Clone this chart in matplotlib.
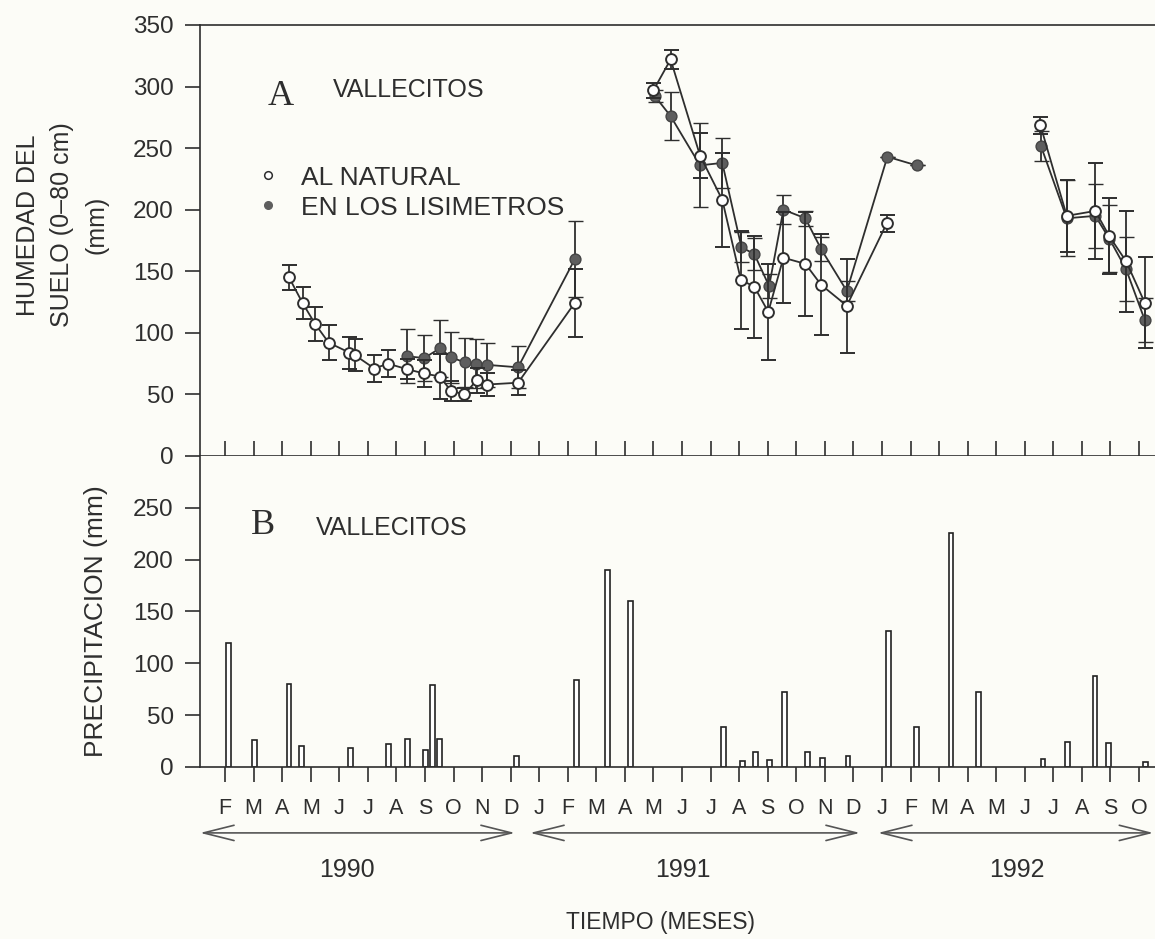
import numpy as np
import matplotlib
matplotlib.use("Agg")
import matplotlib.pyplot as plt
from matplotlib.lines import Line2D
from matplotlib.transforms import blended_transform_factory

plt.rcParams['font.family'] = ['Liberation Sans', 'DejaVu Sans']

# eje x: meses contados desde enero 1990 (ene-1990 = 0)
# humedad del suelo, AL NATURAL (nan separa los tramos de la serie)
nat_mes = [3.24, 3.72, 4.16, 4.63, 5.35, 5.54, 6.23, 6.70, 7.37, 7.97,
           8.53, 8.90, 9.38, 9.81, 10.16, 11.26, 13.25, np.nan,
           16.00, 16.60, 17.63, 18.41, 19.06, 19.53, 20.02, 20.55, 21.32,
           21.87, 22.77, 24.17, np.nan,
           29.55, 30.47, 31.47, 31.96, 32.55, 33.20]
nat_hum = [145, 124, 107, 92, 84, 82, 71, 75, 70.5, 67,
           64.5, 53, 50, 61.5, 58, 59.5, 124.5, np.nan,
           297, 322, 244, 208, 143, 137.5, 117, 161, 156,
           139, 122, 189, np.nan,
           268.5, 195, 199, 178.5, 158, 124.5]
nat_err = [10, 13, 14, 14, 13, 13, 11, 11, 8, 11,
           18, 8, 5, 10, 9, 10, 27.5, np.nan,
           6, 8, 18, 38, 40, 41.5, 39, 37, 42,
           41, 38, 7, np.nan,
           7, 29, 39, 31, 41, 37]

# humedad del suelo, EN LOS LISIMETROS
lis_mes = [7.37, 7.97, 8.53, 8.92, 9.40, 9.79, 10.18, 11.26, 13.25, np.nan,
           16.04, 16.60, 17.63, 18.41, 19.08, 19.53, 20.05, 20.55, 21.32,
           21.87, 22.77, 24.19, 25.21, np.nan,
           29.57, 30.47, 31.47, 31.96, 32.55, 33.20]
lis_hum = [81, 79.5, 87.5, 80, 76, 75, 74, 72, 160, np.nan,
           292.5, 276, 236, 238, 169.5, 164, 138, 200, 193,
           168, 134, 243, 236, np.nan,
           251.5, 193, 195, 176.5, 151.5, 110.5]
lis_err = [22, 19, 23, 21, 20, 20, 18, 17, 31, np.nan,
           5, 19.5, 34, 20, 12, 13, 10, 12, 6,
           10, 8, 0, 0, np.nan,
           12, 31, 26, 27, 26, 18]

# precipitacion (mm)
pp_mes = [1.12, 2.03, 3.24, 3.69, 5.38, 6.71, 7.38, 8.01, 8.25, 8.52,
          11.21, 13.31, 14.39, 15.20, 18.46, 19.11, 19.57, 20.06, 20.58,
          21.39, 21.93, 22.81, 24.24, 25.22, 26.42, 27.38, 29.64, 30.49,
          31.46, 31.94, 33.22]
pp_mm = [120, 26, 80.5, 20.5, 18, 22, 27, 16, 79, 27,
         11, 83.5, 190, 160.5, 39, 6, 14.5, 6.5, 72,
         14.5, 8.5, 10.5, 131, 39, 225.5, 72.5, 7.5, 24.5,
         87.5, 23.5, 5]

meses = list(range(1, 34))
letras_mes = "JFMAMJJASOND"
anios = ['1990', '1991', '1992']

fondo = '#fcfcf7'
tinta = '#2e2e2e'
gris = '#5e5e5e'

fig = plt.figure(figsize=(11.55, 9.39), dpi=100, facecolor=fondo)
ax_top = fig.add_axes([0.1732, 0.5144, 0.8268, 0.4590], facecolor=fondo)
ax_bot = fig.add_axes([0.1732, 0.1832, 0.8268, 0.3312], facecolor=fondo)

for ax in (ax_top, ax_bot):
    ax.set_xlim(0.125, 33.56)
    ax.spines['right'].set_visible(False)
    for s in ('left', 'top', 'bottom'):
        ax.spines[s].set_linewidth(1.2)
        ax.spines[s].set_color(tinta)
    ax.tick_params(axis='y', direction='out', length=11, width=1.2,
                   color=tinta, labelcolor=tinta, labelsize=17.5, pad=8)
ax_bot.spines['top'].set_visible(False)

# --- panel A: humedad del suelo ---
ax_top.set_ylim(0, 350)
ax_top.set_yticks(np.arange(0, 351, 50))
ax_top.set_xticks(meses)
ax_top.tick_params(axis='x', direction='in', length=11, width=1.2,
                   color=tinta, labelbottom=False)

ax_top.errorbar(lis_mes, lis_hum, yerr=lis_err, fmt='-o', color=tinta,
                mfc=gris, mec='#444444', ms=7.8, mew=1.0, lw=1.3,
                elinewidth=1.3, capsize=5.4, capthick=1.3, zorder=2)
ax_top.errorbar(nat_mes, nat_hum, yerr=nat_err, fmt='-o', color=tinta,
                mfc='white', mec=tinta, ms=7.8, mew=1.4, lw=1.3,
                elinewidth=1.3, capsize=5.4, capthick=1.3, zorder=3)

ax_top.text(0.084, 0.833, 'A', transform=ax_top.transAxes, ha='center',
            va='center', fontsize=26, family='Liberation Serif', color=tinta)
ax_top.text(0.139, 0.849, 'VALLECITOS', transform=ax_top.transAxes,
            ha='left', va='center', fontsize=18, color=tinta)

handles = [Line2D([], [], ls='none', marker='o', ms=5.5, mfc='white',
                  mec=tinta, mew=1.1),
           Line2D([], [], ls='none', marker='o', ms=5.5, mfc=gris,
                  mec=gris, mew=1.0)]
leg = ax_top.legend(handles, ['AL NATURAL', 'EN LOS LISIMETROS'],
                    loc='center left', bbox_to_anchor=(0.059, 0.611),
                    frameon=False, fontsize=19, handlelength=0.85,
                    handletextpad=0.85, labelspacing=0.22, borderpad=0,
                    borderaxespad=0)
for t in leg.get_texts():
    t.set_color(tinta)

# --- panel B: precipitacion ---
ax_bot.set_ylim(0, 300)
ax_bot.set_yticks(np.arange(0, 251, 50))
ax_bot.bar(pp_mes, pp_mm, width=0.17, color='white', edgecolor='#222222',
           linewidth=1.2, zorder=2)
ax_bot.set_xticks(meses)
ax_bot.set_xticklabels([letras_mes[m % 12] for m in meses])
ax_bot.tick_params(axis='x', direction='out', length=11, width=1.2,
                   color=tinta, labelcolor=tinta, labelsize=15.5, pad=11)

ax_bot.text(0.066, 0.778, 'B', transform=ax_bot.transAxes, ha='center',
            va='center', fontsize=26, family='Liberation Serif', color=tinta)
ax_bot.text(0.121, 0.768, 'VALLECITOS', transform=ax_bot.transAxes,
            ha='left', va='center', fontsize=18, color=tinta)

# flechas de cada año bajo los meses
trans = blended_transform_factory(ax_bot.transData, ax_bot.transAxes)
flechas = [(0.125, 11.15), (11.68, 23.23), (23.86, 33.50)]
centro_anio = [5.26, 17.04, 28.73]
for (x0, x1), xc, anio in zip(flechas, centro_anio, anios):
    ax_bot.annotate('', xy=(x1, -0.212), xytext=(x0, -0.212),
                    xycoords=trans, textcoords=trans, annotation_clip=False,
                    arrowprops=dict(arrowstyle='<->,head_length=2.2,head_width=0.55',
                                    mutation_scale=10, shrinkA=0, shrinkB=0,
                                    lw=1.2, color='#555555'))
    ax_bot.text(xc, -0.331, anio, transform=trans, ha='center', va='center',
                fontsize=18, color=tinta)

fig.text(0.572, 1 - 923 / 939, 'TIEMPO (MESES)', ha='center', va='center',
         fontsize=16.5, color=tinta)
fig.text(0.054, 1 - 225 / 939, 'HUMEDAD DEL\nSUELO (0\u201380 cm)\n(mm)',
         rotation=90, ha='center', va='center', multialignment='center',
         fontsize=18, linespacing=1.55, color=tinta)
fig.text(0.083, 1 - 621 / 939, 'PRECIPITACION (mm)', rotation=90,
         ha='center', va='center', fontsize=19, color=tinta)

fig.savefig('out.png', dpi=100, facecolor=fondo)
